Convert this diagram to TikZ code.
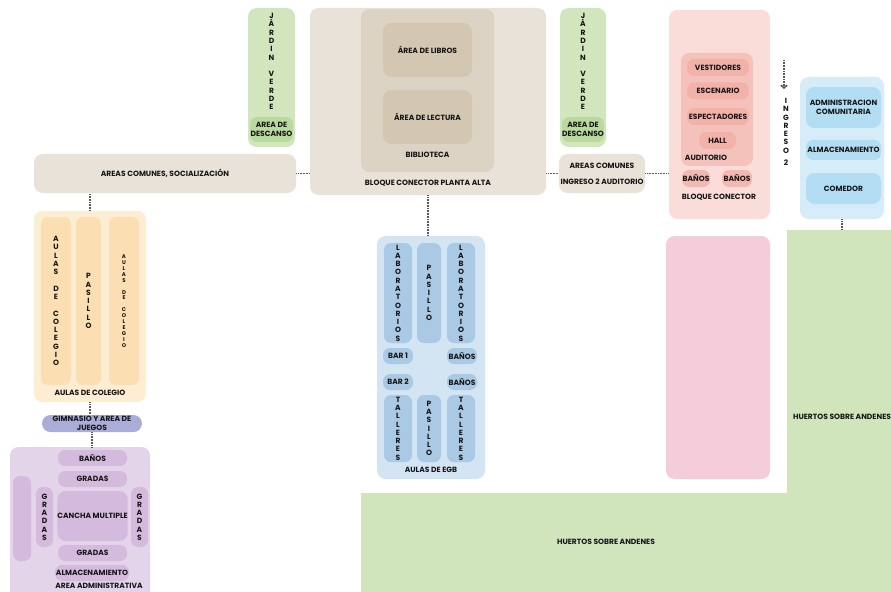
\documentclass[tikz,border=0pt]{standalone}
\usepackage{fontspec}
\setmainfont{Poppins}
\usetikzlibrary{arrows.meta}

\definecolor{tinta}{HTML}{161616}
\definecolor{arena}{HTML}{E8E2D9}
\definecolor{arenaOsc}{HTML}{DCD3C5}
\definecolor{arenaMas}{HTML}{D3C7B2}
\definecolor{verdeC}{HTML}{D1E6BD}
\definecolor{verdeO}{HTML}{B9D99F}
\definecolor{rosaC}{HTML}{FADDD9}
\definecolor{rosaM}{HTML}{F5C2BB}
\definecolor{rosaO}{HTML}{F2B2A9}
\definecolor{fucsiaC}{HTML}{F5CCDA}
\definecolor{celesteC}{HTML}{D6ECF8}
\definecolor{celesteO}{HTML}{B2DDF3}
\definecolor{naranjaC}{HTML}{FDEDD3}
\definecolor{naranjaO}{HTML}{FBDFB2}
\definecolor{lila}{HTML}{A9ADD7}
\definecolor{moradoC}{HTML}{E4D4E9}
\definecolor{moradoO}{HTML}{D4BBDD}
\definecolor{azulC}{HTML}{D3E4F3}
\definecolor{azulO}{HTML}{A9C9E4}
\definecolor{huerto}{HTML}{D0E5BC}

\begin{document}
\begin{tikzpicture}[x=0.02cm, y=-0.02cm,
    every node/.style={font=\bfseries\fontsize{4.3}{5}\selectfont, text=tinta, align=center, inner sep=0pt},
    sz/.style 2 args={minimum width=#1*0.02cm, minimum height=#2*0.02cm},
    bloque/.style={rounded corners=1.7mm},
    pieza/.style={rounded corners=1.4mm},
    vert/.style={font=\bfseries\fontsize{4.3}{4.7}\selectfont},
    vertchico/.style={font=\bfseries\fontsize{3.1}{3.35}\selectfont},
    enlace/.style={draw=black!65, line width=0.9pt, dash pattern=on 0.45pt off 0.45pt}
  ]
  \clip (0,0) rectangle (891,591);

  % huertos
  \fill[huerto] (787,230) -- (895,230) -- (895,595) -- (361,595) -- (361,493) -- (787,493) -- cycle;
  \node (hueD) at (842,417) {HUERTOS SOBRE ANDENES};
  \node (hueI) at (606,542) {HUERTOS SOBRE ANDENES};
  \coordinate (hueN) at (842,230);

  % jardines
  \node[fill=verdeC, bloque, sz={47}{139}] (jv1) at (271.5,77.5) {};
  \node[vert] (jv1T) at (271.5,61.5) {J\\Á\\R\\D\\I\\N\\ \\V\\E\\R\\D\\E};
  \node[fill=verdeO, pieza, sz={43}{25}] (des1) at (271.5,129.5) {AREA DE\\DESCANSO};
  \node[fill=verdeC, bloque, sz={46}{139}] (jv2) at (583,77.5) {};
  \node[vert] (jv2T) at (583,61.5) {J\\Á\\R\\D\\I\\N\\ \\V\\E\\R\\D\\E};
  \node[fill=verdeO, pieza, sz={42}{25}] (des2) at (583,129.5) {AREA DE\\DESCANSO};

  % bloque conector planta alta
  \node[fill=arena, bloque, sz={236}{187}] (bca) at (428,101.5) {};
  \node[fill=arenaOsc, bloque, sz={133}{163}] (bib) at (427.5,90.5) {};
  \node[fill=arenaMas, bloque, sz={89}{54}] (lib) at (427.5,50) {ÁREA DE LIBROS};
  \node[fill=arenaMas, bloque, sz={89}{54}] (lec) at (427.5,117) {ÁREA DE LECTURA};
  \node (bibT) at (427.5,155) {BIBLIOTECA};
  \node (bcaT) at (428,183) {BLOQUE CONECTOR PLANTA ALTA};

  % areas comunes
  \node[fill=arena, bloque, sz={262}{39}] (acs) at (165,173.5) {AREAS COMUNES, SOCIALIZACIÓN};
  \node[fill=arena, bloque, sz={86}{39}] (aci) at (602,173.5) {AREAS COMUNES\\[4pt]INGRESO 2 AUDITORIO};

  % bloque conector (auditorio)
  \node[fill=rosaC, bloque, sz={101}{209}] (bcn) at (719.5,114.5) {};
  \node[fill=rosaM, bloque, sz={72}{113}] (aud) at (717,109.5) {};
  \node[fill=rosaO, pieza, sz={62}{17}] (ves) at (718,67.5) {VESTIDORES};
  \node[fill=rosaO, pieza, sz={62}{17}] (esc) at (718,91) {ESCENARIO};
  \node[fill=rosaO, pieza, sz={62}{17}] (esp) at (718,116.5) {ESPECTADORES};
  \node[fill=rosaO, pieza, sz={37}{17}] (hal) at (717.5,140.5) {HALL};
  \node (audT) at (706,158) {AUDITORIO};
  \node[fill=rosaO!85!rosaC, pieza, sz={28}{17}] (ba1) at (696,178.5) {BAÑOS};
  \node[fill=rosaO!85!rosaC, pieza, sz={30}{17}] (ba2) at (737,178.5) {BAÑOS};
  \node (bcnT) at (719,197) {BLOQUE CONECTOR};

  % ingreso 2
  \node[vert] (ing) at (786,132) {I\\N\\G\\R\\E\\S\\O\\[2.4pt]2};
  \coordinate (ingA) at (784,60);
  \draw[enlace, -{Straight Barb[length=1.6pt, width=3.6pt]}, shorten >=0.18cm] (ingA) -- (ingA |- ing.north);

  % administracion comunitaria
  \node[fill=celesteC, bloque, sz={84}{142}] (adm) at (842,148) {};
  \node[fill=celesteO, bloque, sz={75}{41}] (adc) at (843.5,107.5) {ADMINISTRACION\\COMUNITARIA};
  \node[fill=celesteO, pieza, sz={75}{20}] (alm) at (843.5,150) {ALMACENAMIENTO};
  \node[fill=celesteO, bloque, sz={75}{31}] (com) at (843.5,188.5) {COMEDOR};

  \node[fill=fucsiaC, bloque, sz={104}{243}] (ros) at (718,357.5) {};

  % aulas de colegio
  \node[fill=naranjaC, bloque, sz={112}{191}] (col) at (90,306.5) {};
  \node[fill=naranjaO, pieza, vert, sz={30}{168}] (co1) at (56,301) {A\\U\\L\\A\\S\\ \\D\\E\\ \\C\\O\\L\\E\\G\\I\\O};
  \node[fill=naranjaO, pieza, vert, sz={25}{168}] (co2) at (88.5,301) {P\\A\\S\\I\\L\\L\\O};
  \node[fill=naranjaO, pieza, vertchico, sz={30}{168}] (co3) at (124,301) {A\\U\\L\\A\\S\\ \\D\\E\\ \\C\\O\\L\\E\\G\\I\\O};
  \node (colT) at (90,393) {AULAS DE COLEGIO};

  \node[fill=lila, bloque, sz={100}{17}] (gim) at (92,423.5) {GIMNASIO Y AREA DE\\JUEGOS};

  % area administrativa
  \node[fill=moradoC, bloque, sz={140}{160}] (aad) at (80,527) {};
  \node[fill=moradoO, pieza, sz={69}{16}] (bn) at (92.5,458) {BAÑOS};
  \node[fill=moradoO, pieza, sz={69}{16}] (gr1) at (92.5,479) {GRADAS};
  \node[fill=moradoO, bloque, sz={69}{50}] (can) at (92.5,516) {CANCHA MULTIPLE};
  \node[fill=moradoO, pieza, sz={69}{16}] (gr2) at (92.5,553) {GRADAS};
  \node[fill=moradoO, pieza, sz={74}{16}] (alb) at (92,573) {ALMACENAMIENTO};
  \node[fill=moradoO, pieza, sz={18}{85}] (blk) at (22,518.5) {};
  \node[fill=moradoO, pieza, vert, sz={17}{60}] (grl) at (44.5,517) {G\\R\\A\\D\\A\\S};
  \node[fill=moradoO, pieza, vert, sz={17}{60}] (grr) at (139.5,517) {G\\R\\A\\D\\A\\S};
  \node (aadT) at (99,586) {AREA ADMINISTRATIVA};

  % aulas de EGB
  \node[fill=azulC, bloque, sz={108}{243}] (egb) at (431,357.5) {};
  \node[fill=azulO, pieza, vert, sz={28}{100}] (la1) at (398,293) {L\\A\\B\\O\\R\\A\\T\\O\\R\\I\\O\\S};
  \node[fill=azulO, pieza, vert, sz={24}{100}] (pa1) at (429,293) {P\\A\\S\\I\\L\\L\\O};
  \node[fill=azulO, pieza, vert, sz={28}{100}] (la2) at (461,293) {L\\A\\B\\O\\R\\A\\T\\O\\R\\I\\O\\S};
  \node[fill=azulO, pieza, sz={30}{16}] (br1) at (398,356) {BAR 1};
  \node[fill=azulO, pieza, sz={30}{16}] (bn1) at (462,356) {BAÑOS};
  \node[fill=azulO, pieza, sz={30}{16}] (br2) at (398,382) {BAR 2};
  \node[fill=azulO, pieza, sz={30}{16}] (bn2) at (462,382) {BAÑOS};
  \node[fill=azulO, pieza, vert, sz={28}{67}] (ta1) at (398,428.5) {T\\A\\L\\L\\E\\R\\E\\S};
  \node[fill=azulO, pieza, vert, sz={24}{67}] (pa2) at (429,428.5) {P\\A\\S\\I\\L\\L\\O};
  \node[fill=azulO, pieza, vert, sz={28}{67}] (ta2) at (461,428.5) {T\\A\\L\\L\\E\\R\\E\\S};
  \node (egbT) at (431,470) {AULAS DE EGB};

  % enlaces
  \draw[enlace] (acs.east) -- (acs.east -| bca.west);
  \draw[enlace] (aci.west -| bca.east) -- (aci.west);
  \draw[enlace] (aci.east) -- (aci.east -| bcn.west);
  \draw[enlace] (bca.south) -- (bca.south |- egb.north);
  \draw[enlace] (col.north) -- (col.north |- acs.south);
  \draw[enlace] (col.south) -- (col.south |- gim.north);
  \draw[enlace] (gim.south) -- (gim.south |- aad.north);
  \draw[enlace] (adm.south) -- (hueN);
\end{tikzpicture}
\end{document}
